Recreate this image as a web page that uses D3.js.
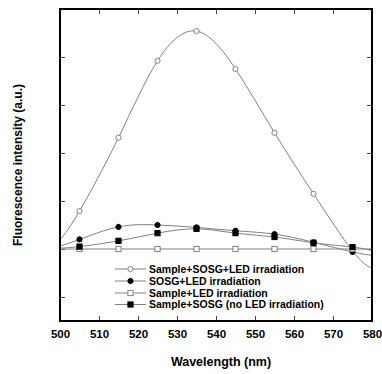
<!DOCTYPE html>
<html>
<head>
<meta charset="utf-8">
<script src="https://cdn.jsdelivr.net/npm/d3@7"></script>
<style>
  body { margin: 0; background: #fff; }
  svg { display: block; font-family: "Liberation Sans", Arial, sans-serif; font-weight: bold; }
</style>
</head>
<body>
<div id="chart"></div>
<script>
// wavelengths where markers sit
const wavelengths = [505, 515, 525, 535, 545, 555, 565, 575];

// marker values per series (a.u.)
const sampleSosgLed = [0.79, 2.32, 3.92, 4.54, 3.75, 2.42, 1.15, -0.04];
const sosgLed = [0.2, 0.46, 0.5, 0.45, 0.38, 0.31, 0.14, -0.06];
const sampleLed = [0, 0, 0, 0, 0, 0, 0, 0];
const sampleSosgNoLed = [0.05, 0.17, 0.33, 0.42, 0.33, 0.25, 0.13, 0.04];

// where each fitted curve meets the left (500) and right (580) frame
const curveStart = [0.19, 0.06, 0, 0.02];
const curveEnd = [-0.4, -0.13, 0, -0.03];

const seriesNames = [
  "Sample+SOSG+LED irradiation",
  "SOSG+LED irradiation",
  "Sample+LED irradiation",
  "Sample+SOSG (no LED irradiation)"
];
const markerTypes = ["openCircle", "filledCircle", "openSquare", "filledSquare"];

const xTicks = [510, 520, 530, 540, 550, 560, 570];
const xLabels = [500, 510, 520, 530, 540, 550, 560, 570, 580];
const yTicks = [-1, 0, 1, 2, 3, 4];

const width = 382, height = 374;
const plot = { left: 60, right: 372, top: 9, bottom: 321 };

const svg = d3.select("#chart").append("svg")
  .attr("width", width)
  .attr("height", height);

const x = d3.scaleLinear().domain([500, 580]).range([plot.left, plot.right]);
const y = d3.scaleLinear().domain([-1.5, 5]).range([plot.bottom, plot.top]);

const lineColor = "#808080";

// axes (ticks point inwards)
const bottomAxis = svg.append("g")
  .attr("transform", `translate(0,${plot.bottom})`)
  .call(d3.axisBottom(x).tickValues(xLabels).tickSizeInner(-5).tickSizeOuter(0).tickPadding(9).tickFormat(d3.format("d")));
bottomAxis.selectAll(".tick line").filter(d => d === 500 || d === 580).remove();

const topAxis = svg.append("g")
  .attr("transform", `translate(0,${plot.top})`)
  .call(d3.axisTop(x).tickValues(xTicks).tickSizeInner(-5).tickSizeOuter(0).tickFormat(""));

const leftAxis = svg.append("g")
  .attr("transform", `translate(${plot.left},0)`)
  .call(d3.axisLeft(y).tickValues(yTicks).tickSizeInner(-5).tickSizeOuter(0).tickFormat(""));

const rightAxis = svg.append("g")
  .attr("transform", `translate(${plot.right},0)`)
  .call(d3.axisRight(y).tickValues(yTicks).tickSizeInner(-5).tickSizeOuter(0).tickFormat(""));

[bottomAxis, topAxis, leftAxis, rightAxis].forEach(a => {
  a.select(".domain").remove();
  a.selectAll(".tick line").attr("stroke", "#444").attr("stroke-width", 1);
});
bottomAxis.selectAll("text")
  .style("font-size", "11.5px")
  .style("font-weight", "bold")
  .style("font-family", "'Liberation Sans', Arial, sans-serif")
  .attr("fill", "#000");

// series
const series = [sampleSosgLed, sosgLed, sampleLed, sampleSosgNoLed].map((vals, i) => ({
  name: seriesNames[i],
  marker: markerTypes[i],
  points: wavelengths.map((w, j) => ({ x: w, y: vals[j] })),
  curve: [{ x: 500, y: curveStart[i] }]
    .concat(wavelengths.map((w, j) => ({ x: w, y: vals[j] })))
    .concat([{ x: 580, y: curveEnd[i] }])
}));

const line = d3.line()
  .x(d => x(d.x))
  .y(d => y(d.y))
  .curve(d3.curveNatural);

const plotArea = svg.append("g");

plotArea.selectAll(".curve")
  .data(series)
  .enter()
  .append("path")
  .attr("class", "curve")
  .attr("d", d => line(d.curve))
  .attr("fill", "none")
  .attr("stroke", lineColor)
  .attr("stroke-width", 1);

function drawMarker(g, type, cx, cy) {
  if (type === "openCircle" || type === "filledCircle") {
    g.append("circle")
      .attr("cx", cx).attr("cy", cy).attr("r", 2.6)
      .attr("fill", type === "openCircle" ? "#fff" : "#000")
      .attr("stroke", type === "openCircle" ? lineColor : "#000")
      .attr("stroke-width", 1);
  } else {
    g.append("rect")
      .attr("x", cx - 2.6).attr("y", cy - 2.6)
      .attr("width", 5.2).attr("height", 5.2)
      .attr("fill", type === "openSquare" ? "#fff" : "#000")
      .attr("stroke", type === "openSquare" ? lineColor : "#000")
      .attr("stroke-width", 1);
  }
}

series.forEach(s => {
  const g = plotArea.append("g");
  s.points.forEach(p => drawMarker(g, s.marker, x(p.x), y(p.y)));
});

// legend
const legend = svg.append("g");
const legendRowY = [269, 281, 293, 304.5];
series.forEach((s, i) => {
  const row = legend.append("g");
  row.append("line")
    .attr("x1", 115).attr("x2", 146)
    .attr("y1", legendRowY[i]).attr("y2", legendRowY[i])
    .attr("stroke", lineColor)
    .attr("stroke-width", 1);
  drawMarker(row, s.marker, 130.5, legendRowY[i]);
  row.append("text")
    .attr("x", 149)
    .attr("y", legendRowY[i])
    .attr("dy", "0.35em")
    .style("font-size", "10.5px")
    .text(s.name);
});

// frame
svg.append("rect")
  .attr("x", plot.left)
  .attr("y", plot.top)
  .attr("width", plot.right - plot.left)
  .attr("height", plot.bottom - plot.top)
  .attr("fill", "none")
  .attr("stroke", "#000")
  .attr("stroke-width", 2);

// axis titles
svg.append("text")
  .attr("x", 221)
  .attr("y", 366)
  .attr("text-anchor", "middle")
  .style("font-size", "12.5px")
  .text("Wavelength (nm)");

svg.append("text")
  .attr("transform", "translate(22,165) rotate(-90)")
  .attr("text-anchor", "middle")
  .style("font-size", "12px")
  .text("Fluorescence intensity (a.u.)");
</script>
</body>
</html>
